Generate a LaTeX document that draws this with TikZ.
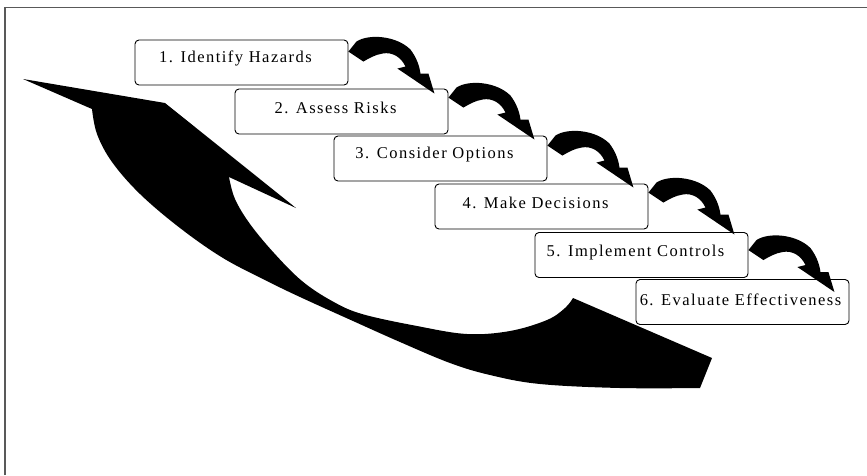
\documentclass[tikz,border=0pt]{standalone}
\usepackage{fontspec}
\setmainfont{Liberation Serif}
\usetikzlibrary{calc}
\tikzset{
  stepbox/.style={draw=black, line width=0.9pt, rounded corners=4pt, minimum width=213pt, minimum height=45pt, inner sep=0pt, fill=white},
  steptext/.style={font=\fontsize{16.5}{19}\selectfont\addfontfeature{LetterSpace=9}, inner sep=0pt, anchor=center},
  curvearrow/.style={fill=black},
  frameline/.style={draw=black!65, line width=1.5pt},
  bigarrow/.style={fill=black}
}
\newcommand{\stepArrowShape}{%
  (0,0) -- (8,-10) .. controls (20,-18) and (48,-16) .. (62,-2)
  .. controls (68,6) and (71,14) .. (72,22) -- (80,22) -- (86,42) -- (49,17) -- (57,15)
  .. controls (53,6) and (44,0) .. (34,2) .. controls (27,3) and (20,7) .. (15,10) -- cycle}
\begin{document}
\begin{tikzpicture}[x=1pt,y=-1pt]
\useasboundingbox (0,0) rectangle (867,475);
% frame
\coordinate (fbl) at (5,475);
\coordinate (ftl) at (5,7.5);
\coordinate (ftr) at (867,7.5);
\draw[frameline] (fbl) -- (ftl) -- (ftr);
% big return arrow
\fill[bigarrow] (23,79) -- (165,103) -- (296,208) -- (229,177)
  -- plot[smooth, tension=0.6] coordinates {(229,177) (235,199) (250,224) (274,253) (302,281) (332,301) (362,314) (417,326) (467,334) (510,331) (547,320) (565,308) (573,298)}
  -- (712,358) -- (700,388)
  -- plot[smooth, tension=0.6] coordinates {(700,388) (620,388) (540,384) (490,375) (450,363) (400,342) (353,321) (300,297) (267,281) (223,258) (180,228) (140,194) (112,162) (97,134) (92,109)}
  -- cycle;
% boxes
\node[stepbox] (b1) at (241.5,62.5) {};
\node[stepbox] (b2) at (341.5,111.5) {};
\node[stepbox] (b3) at (440.5,158.5) {};
\node[stepbox] (b4) at (541.5,206.5) {};
\node[stepbox] (b5) at (641.5,255) {};
\node[stepbox] (b6) at (742.5,302) {};
% texts
\node[steptext] (t1) at ([xshift=-6pt,yshift=4pt]b1.center) {1. Identify Hazards};
\node[steptext] (t2) at ([xshift=-6pt,yshift=4pt]b2.center) {2. Assess Risks};
\node[steptext] (t3) at ([xshift=-6pt,yshift=4pt]b3.center) {3. Consider Options};
\node[steptext] (t4) at ([xshift=-6pt,yshift=4pt]b4.center) {4. Make Decisions};
\node[steptext] (t5) at ([xshift=-6pt,yshift=2pt]b5.center) {5. Implement Controls};
\node[steptext] (t6) at ([xshift=-2pt,yshift=2pt]b6.center) {6. Evaluate Effectiveness};
% curved arrows between steps
\begin{scope}[shift={($(b1.north east)+(0,12)$)}]
  \fill[curvearrow] \stepArrowShape;
\end{scope}
\begin{scope}[shift={($(b2.north east)+(0,9)$)}]
  \fill[curvearrow] \stepArrowShape;
\end{scope}
\begin{scope}[shift={($(b3.north east)+(0,10)$)}]
  \fill[curvearrow] \stepArrowShape;
\end{scope}
\begin{scope}[shift={($(b4.north east)+(0,9)$)}]
  \fill[curvearrow] \stepArrowShape;
\end{scope}
\begin{scope}[shift={($(b5.north east)+(0,18)$)}]
  \fill[curvearrow] \stepArrowShape;
\end{scope}
\end{tikzpicture}
\end{document}
